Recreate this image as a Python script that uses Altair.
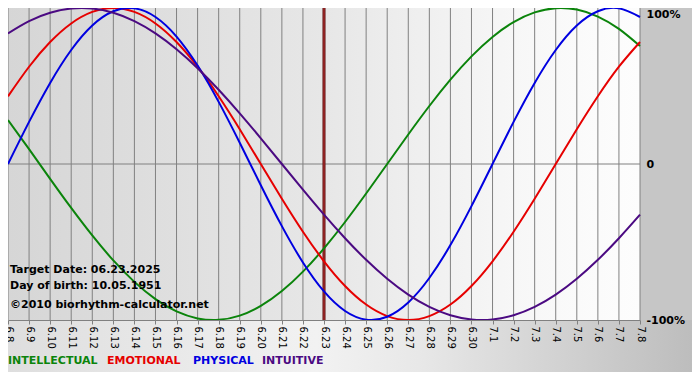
import altair as alt
import pandas as pd

# ---- data ----
day_labels = ["6.8", "6.9", "6.10", "6.11", "6.12", "6.13", "6.14", "6.15", "6.16", "6.17",
              "6.18", "6.19", "6.20", "6.21", "6.22", "6.23", "6.24", "6.25", "6.26", "6.27",
              "6.28", "6.29", "6.30", "7.1", "7.2", "7.3", "7.4", "7.5", "7.6", "7.7", "7.8"]

intellectual = [0.2817, 0.0951, -0.0951, -0.2817, -0.4582, -0.6182, -0.7557, -0.8660, -0.9450, -0.9898,
                -0.9989, -0.9718, -0.9096, -0.8146, -0.6901, -0.5406, -0.3717, -0.1893, 0.0, 0.1893,
                0.3717, 0.5406, 0.6901, 0.8146, 0.9096, 0.9718, 0.9989, 0.9898, 0.9450, 0.8660, 0.7557]
emotional = [0.4339, 0.6235, 0.7818, 0.9010, 0.9749, 1.0, 0.9749, 0.9010, 0.7818, 0.6235,
             0.4339, 0.2225, 0.0, -0.2225, -0.4339, -0.6235, -0.7818, -0.9010, -0.9749, -1.0,
             -0.9749, -0.9010, -0.7818, -0.6235, -0.4339, -0.2225, 0.0, 0.2225, 0.4339, 0.6235, 0.7818]
physical = [0.0, 0.2698, 0.5196, 0.7308, 0.8879, 0.9791, 0.9977, 0.9423, 0.8170, 0.6311,
            0.3984, 0.1362, -0.1362, -0.3984, -0.6311, -0.8170, -0.9423, -0.9977, -0.9791, -0.8879,
            -0.7308, -0.5196, -0.2698, 0.0, 0.2698, 0.5196, 0.7308, 0.8879, 0.9791, 0.9977, 0.9423]
intuitive = [0.8372, 0.9158, 0.9694, 0.9966, 0.9966, 0.9694, 0.9158, 0.8372, 0.7357, 0.6142,
             0.4759, 0.3247, 0.1646, 0.0, -0.1646, -0.3247, -0.4759, -0.6142, -0.7357, -0.8372,
             -0.9158, -0.9694, -0.9966, -0.9966, -0.9694, -0.9158, -0.8372, -0.7357, -0.6142, -0.4759, -0.3247]

series_names = ["INTELLECTUAL", "EMOTIONAL", "PHYSICAL", "INTUITIVE"]
series_colors = ["#0b840b", "#e60000", "#0000e0", "#4b0a82"]
target_label = "6.23"
info_lines = ["Target Date: 06.23.2025", "Day of birth: 10.05.1951", "©2010 biorhythm-calculator.net"]
y_tick_values = [-1, 0, 1]
y_tick_texts = ["-100%", "0", "100%"]

# ---- layout ----
W, H = 632, 312
PAD = {"left": 0, "top": 0, "right": 52, "bottom": 52}
FONT = "DejaVu Sans"

rows = []
for name, vals in zip(series_names, [intellectual, emotional, physical, intuitive]):
    for i, v in enumerate(vals):
        rows.append({"day": i, "value": v, "series": name, "label": day_labels[i]})
df = pd.DataFrame(rows)
days_df = pd.DataFrame({"day": list(range(len(day_labels)))})
target_df = pd.DataFrame({"day": [day_labels.index(target_label)]})
zero_df = pd.DataFrame({"value": [0]})
one = pd.DataFrame({"a": [0]})

x_scale = alt.Scale(domain=[0, len(day_labels) - 1], nice=False, zero=False)
y_scale = alt.Scale(domain=[-1, 1], nice=False)

x_label_expr = "[" + ",".join("'" + l + "'" for l in day_labels) + "][datum.value]"
y_label_expr = " : ".join(
    f"datum.value == {v} ? '{t}'" for v, t in zip(y_tick_values[:-1], y_tick_texts[:-1])
) + f" : '{y_tick_texts[-1]}'"

x_axis = alt.Axis(values=list(range(len(day_labels))), labelExpr=x_label_expr,
                  labelAngle=90, labelAlign="left", labelBaseline="middle",
                  labelFont=FONT, labelFontSize=10, labelColor="#000000",
                  labelPadding=2, labelFlush=False, labelOverlap=False, labelBound=False,
                  labelSeparation=0,
                  tickSize=4, tickColor="#808080", domainColor="#808080",
                  grid=False, title=None, zindex=1)
y_axis = alt.Axis(orient="right", values=y_tick_values, labelExpr=y_label_expr,
                  labelFont=FONT, labelFontSize=11, labelFontWeight="bold",
                  labelColor="#000000", labelAlign="left",
                  labelBaseline={"condition": {"test": "datum.value == 1", "value": "top"},
                                 "value": "middle"},
                  labelPadding=6, ticks=False, domain=False, grid=False,
                  labelOverlap=False, title=None, zindex=1)

plot_bg = alt.Chart(one).mark_rect(
    color=alt.Gradient(
        gradient="linear", x1=0, x2=1, y1=0, y2=0,
        stops=[alt.GradientStop(offset=0, color="#d6d6d6"),
               alt.GradientStop(offset=0.5, color="#e7e7e7"),
               alt.GradientStop(offset=0.8, color="#f7f7f7"),
               alt.GradientStop(offset=1, color="#fdfdfd")]
    )
).encode(x=alt.value(0), x2=alt.value(W), y=alt.value(0), y2=alt.value(H))

bottom_bg = alt.Chart(one).mark_rect(
    color=alt.Gradient(
        gradient="linear", x1=0, x2=1, y1=0, y2=0,
        stops=[alt.GradientStop(offset=0, color="#dedede"),
               alt.GradientStop(offset=0.45, color="#f2f2f2"),
               alt.GradientStop(offset=0.6, color="#e8e8e8"),
               alt.GradientStop(offset=1, color="#bdbdbd")]
    )
).encode(x=alt.value(0), x2=alt.value(W + PAD["right"]), y=alt.value(H), y2=alt.value(H + PAD["bottom"]))

grid = alt.Chart(days_df).mark_rule(color="#808080", strokeWidth=1).encode(
    x=alt.X("day:Q", scale=x_scale, axis=x_axis),
    y=alt.value(0), y2=alt.value(H)
)

zero_line = alt.Chart(zero_df).mark_rule(color="#808080", strokeWidth=1).encode(
    y=alt.Y("value:Q", scale=y_scale, axis=y_axis),
    x=alt.value(0), x2=alt.value(W)
)

target_dark = alt.Chart(target_df).mark_rule(color="#5a0a0a", strokeWidth=3).encode(
    x=alt.X("day:Q", scale=x_scale, axis=x_axis), y=alt.value(0), y2=alt.value(H))
target_light = alt.Chart(target_df).mark_rule(color="#c23a3a", strokeWidth=1).encode(
    x=alt.X("day:Q", scale=x_scale, axis=x_axis), y=alt.value(0), y2=alt.value(H))

lines = alt.Chart(df).mark_line(strokeWidth=2, interpolate="natural").encode(
    x=alt.X("day:Q", scale=x_scale, axis=x_axis),
    y=alt.Y("value:Q", scale=y_scale, axis=y_axis),
    color=alt.Color("series:N", scale=alt.Scale(domain=series_names, range=series_colors), legend=None),
    detail="series:N",
)

info_layers = []
for txt, yy in zip(info_lines, [H - 50, H - 34, H - 15]):
    info_layers.append(
        alt.Chart(one).mark_text(text=txt, font=FONT, fontSize=11, fontWeight="bold",
                                 color="#000000", align="left", baseline="middle")
        .encode(x=alt.value(2), y=alt.value(yy))
    )

legend_layers = []
for name, col, xx in zip(series_names, series_colors, [0, 99, 185, 254]):
    legend_layers.append(
        alt.Chart(one).mark_text(text=name, font=FONT, fontSize=11, fontWeight="bold",
                                 color=col, align="left", baseline="middle")
        .encode(x=alt.value(xx), y=alt.value(H + 41))
    )

chart = alt.layer(
    plot_bg, bottom_bg, grid, zero_line, target_dark, target_light, lines,
    *info_layers, *legend_layers
).properties(
    width=W, height=H,
    padding=PAD,
    autosize=alt.AutoSizeParams(type="none"),
    background="#c6c6c6",
).configure_view(stroke=None)

chart.save("out.html", embed_options={"renderer": "svg", "actions": False})
